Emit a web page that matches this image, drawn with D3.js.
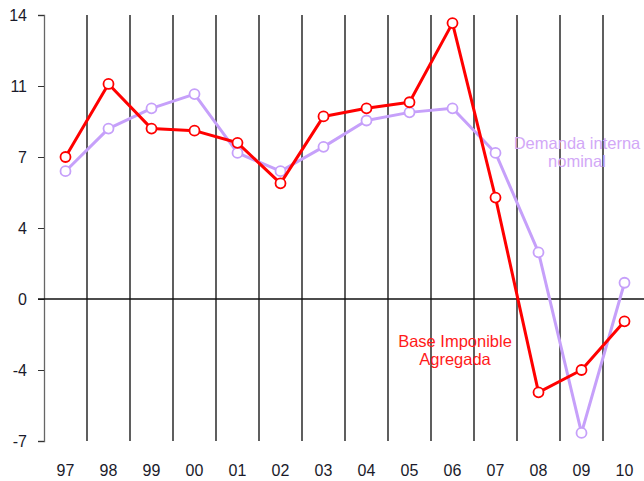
<!DOCTYPE html>
<html>
<head>
<meta charset="utf-8">
<script src="https://cdn.jsdelivr.net/npm/d3@7"></script>
<style>
  body { margin: 0; background: #fff; }
  svg { display: block; font-family: "Liberation Sans", Arial, sans-serif; }
</style>
</head>
<body>
<div id="chart-area"></div>
<script>
// data
var years = ["97", "98", "99", "00", "01", "02", "03", "04", "05", "06", "07", "08", "09", "10"];
var baseImponible = [7.0, 10.6, 8.4, 8.3, 7.7, 5.7, 9.0, 9.4, 9.7, 13.6, 5.0, -4.6, -3.5, -1.1];
var demandaInterna = [6.3, 8.4, 9.4, 10.1, 7.2, 6.3, 7.5, 8.8, 9.2, 9.4, 7.2, 2.3, -6.6, 0.8];
var yTicks = [14, 10.5, 7, 3.5, 0, -3.5, -7];
var yTickLabels = ["14", "11", "7", "4", "0", "-4", "-7"];

var margin = {top: 15, right: 0, bottom: 40, left: 44};
var width = 644;
var height = 481;

var svg = d3.select("#chart-area")
    .append("svg")
        .attr("width", width)
        .attr("height", height);

var x = d3.scaleBand()
    .domain(years)
    .range([margin.left, margin.left + 43 * years.length]);

var y = d3.scaleLinear()
    .domain([-7, 14])
    .range([441, margin.top]);

// vertical grid lines at category boundaries
svg.append("g")
    .selectAll("line")
    .data(years.slice(1))
    .enter().append("line")
        .attr("x1", d => x(d))
        .attr("x2", d => x(d))
        .attr("y1", y(14))
        .attr("y2", y(-7))
        .attr("stroke", "#1a1a1a")
        .attr("stroke-width", 1.4);

// left axis
var leftAxis = d3.axisLeft(y)
    .tickValues(yTicks)
    .tickFormat((d, i) => yTickLabels[i])
    .tickSize(6)
    .tickSizeOuter(6)
    .tickPadding(11);

var yAxis = svg.append("g")
    .attr("transform", "translate(" + margin.left + ",0)")
    .call(leftAxis);
yAxis.select(".domain").attr("stroke", "#666").attr("stroke-width", 1.3);
yAxis.selectAll(".tick line").attr("stroke", "#333");
yAxis.selectAll("text")
    .attr("font-size", "16px")
    .attr("font-family", "Liberation Sans, Arial, sans-serif")
    .attr("fill", "#1a1a2a");

// zero line
svg.append("line")
    .attr("x1", margin.left - 6)
    .attr("x2", width)
    .attr("y1", y(0))
    .attr("y2", y(0))
    .attr("stroke", "#111")
    .attr("stroke-width", 1.3);

// category labels
svg.append("g")
    .selectAll("text")
    .data(years)
    .enter().append("text")
        .attr("x", d => x(d) + x.bandwidth() / 2)
        .attr("y", 476)
        .attr("text-anchor", "middle")
        .attr("font-size", "16px")
        .attr("fill", "#1a1a2a")
        .text(d => d);

var line = d3.line()
    .x((d, i) => x(years[i]) + x.bandwidth() / 2)
    .y(d => y(d));

function drawSeries(values, color) {
    svg.append("path")
        .datum(values)
        .attr("fill", "none")
        .attr("stroke", color)
        .attr("stroke-width", 3)
        .attr("stroke-linejoin", "round")
        .attr("d", line);
    svg.append("g")
        .selectAll("circle")
        .data(values)
        .enter().append("circle")
            .attr("cx", (d, i) => x(years[i]) + x.bandwidth() / 2)
            .attr("cy", d => y(d))
            .attr("r", 5)
            .attr("fill", "#fff")
            .attr("stroke", color)
            .attr("stroke-width", 1.8);
}

drawSeries(demandaInterna, "#c6a0fa");
drawSeries(baseImponible, "#ff0000");

// series labels, one text per line
function addLabel(lines, cx, y0, color) {
    lines.forEach((t, i) => {
        svg.append("text")
            .attr("x", cx)
            .attr("y", y0 + i * 18)
            .attr("text-anchor", "middle")
            .attr("font-size", "16.5px")
            .attr("fill", color)
            .text(t);
    });
}

addLabel(["Demanda interna", "nominal"], 577, 149, "#d2a8f7");
addLabel(["Base Imponible", "Agregada"], 455, 347, "#ff1a1a");
</script>
</body>
</html>
